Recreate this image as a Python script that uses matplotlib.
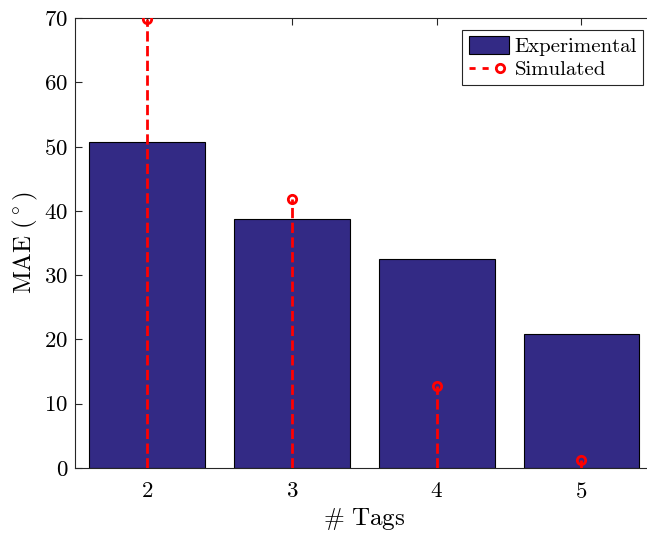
import matplotlib
matplotlib.use("Agg")
from matplotlib import pyplot as plt
from matplotlib.lines import Line2D
from matplotlib.patches import Patch
from matplotlib.legend_handler import HandlerBase

plt.rcParams['font.family'] = ['cmr10', 'DejaVu Serif']
plt.rcParams['mathtext.fontset'] = 'cm'
plt.rcParams['axes.formatter.use_mathtext'] = True

tags = [2, 3, 4, 5]
experimental = [50.7, 38.8, 32.5, 20.9]
simulated = [69.9, 41.8, 12.8, 1.3]

bar_color = '#332a85'


class StemHandler(HandlerBase):
    # dashed line with the circle near the right end, like matlab's stem legend
    def create_artists(self, legend, orig_handle, xdescent, ydescent,
                       width, height, fontsize, trans):
        y = height / 2 - ydescent
        x0, x1 = -xdescent, width - xdescent
        xm = x1 - 0.22 * width
        line = Line2D([x0, xm - 3], [y, y], color='red', linestyle=(0, (2.2, 2.5)),
                      linewidth=2, transform=trans)
        mark = Line2D([xm], [y], color='red', marker='o', markerfacecolor='none',
                      markeredgewidth=2, markersize=6, linestyle='none',
                      transform=trans)
        return [line, mark]


fig = plt.figure(figsize=(6.47, 5.34), dpi=100)
ax = fig.add_axes([75 / 647, 66 / 534, 578.8 / 647, 450 / 534])

ax.bar(tags, experimental, width=0.8, color=bar_color, edgecolor='black',
       linewidth=0.8, zorder=2)
markers, stemlines, baseline = ax.stem(tags, simulated, basefmt=' ')
plt.setp(stemlines, color='red', linestyle='--', linewidth=2, zorder=3)
plt.setp(markers, color='red', marker='o', markerfacecolor='none',
         markeredgewidth=2, markersize=6, zorder=4)

ax.set_xlim(1.5, 5.5)
ax.set_ylim(0, 70)
ax.set_xticks(tags)
ax.set_yticks(range(0, 71, 10))
ax.tick_params(direction='in', top=True, right=False, labelsize=16.5,
               length=5, width=0.8, color='#262626')
ax.tick_params(axis='x', pad=10)
ax.tick_params(axis='y', pad=5)
for s in ax.spines.values():
    s.set_color('#262626')
    s.set_linewidth(0.8)
ax.spines['right'].set_visible(False)

ax.set_xlabel(r'$\#\ \mathrm{Tags}$', fontsize=18, labelpad=3)
ax.set_ylabel(r'$\mathrm{MAE}\ (^\circ)$', fontsize=18, labelpad=3)

handles = [Patch(facecolor=bar_color, edgecolor='black', linewidth=0.8),
           Line2D([0], [0], color='red')]
leg = ax.legend(handles, ['Experimental', 'Simulated'], loc='upper right',
                bbox_to_anchor=(643 / 647, 1 - 30 / 534),
                bbox_transform=fig.transFigure,
                handler_map={handles[1]: StemHandler()},
                fontsize=15, fancybox=False, framealpha=1, edgecolor='#262626',
                borderaxespad=0, handlelength=1.95, handleheight=0.9,
                handletextpad=0.25, borderpad=0.3, labelspacing=0.15)
leg.get_frame().set_linewidth(0.8)

fig.savefig('out.png', dpi=100)
